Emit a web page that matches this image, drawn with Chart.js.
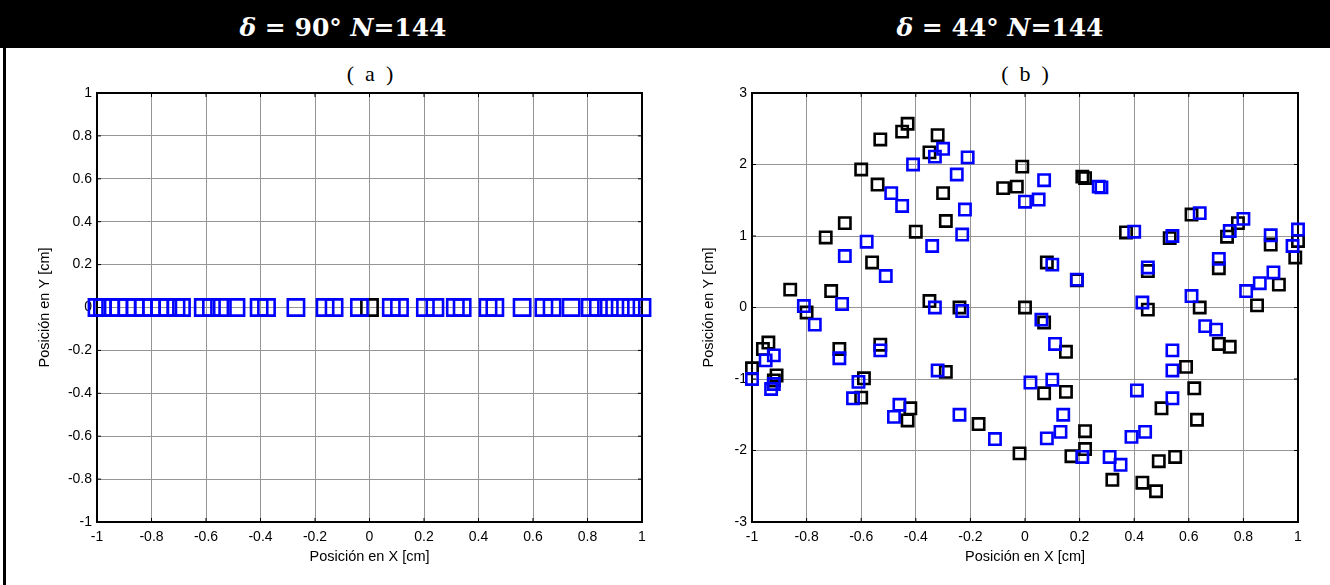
<!DOCTYPE html>
<html>
<head>
<meta charset="utf-8">
<script src="https://cdn.jsdelivr.net/npm/chart.js@4.4.0/dist/chart.umd.min.js"></script>
<style>
  body { margin: 0; width: 1330px; height: 585px; overflow: hidden; position: relative; background: #fff; font-family: "Liberation Sans", Arial, sans-serif; }
  #header { position: absolute; left: 0; top: 0; width: 1330px; height: 48px; background: #000; color: #fff; }
  .htitle { position: absolute; top: 0; height: 48px; font: bold 25px "DejaVu Serif", serif; line-height: 56px; white-space: nowrap; transform: translateX(-50%); }
  #frame { position: absolute; left: 3px; top: 48px; width: 3px; height: 537px; background: #000; z-index: 2; }
  .sub { position: absolute; top: 61px; font: 22px "Liberation Serif", serif; line-height: 26px; white-space: pre; transform: translateX(-50%); }
  canvas { position: absolute; top: 48px; }
  #chartA { left: 0; }
  #chartB { left: 700px; }
</style>
</head>
<body>
<div id="header">
  <div class="htitle" style="left:343px"><i>δ</i> = 90° <i>N</i>=144</div>
  <div class="htitle" style="left:1000px"><i>δ</i> = 44° <i>N</i>=144</div>
</div>
<div id="frame"></div>
<div class="sub" style="left:370px">(  a  )</div>
<div class="sub" style="left:1025px">(  b  )</div>
<canvas id="chartA" width="700" height="537"></canvas>
<canvas id="chartB" width="630" height="537"></canvas>
<script>
// tick labels
const xTicks = [-1, -0.8, -0.6, -0.4, -0.2, 0, 0.2, 0.4, 0.6, 0.8, 1];
const yTicksA = [-1, -0.8, -0.6, -0.4, -0.2, 0, 0.2, 0.4, 0.6, 0.8, 1];
const yTicksB = [-3, -2, -1, 0, 1, 2, 3];

// (a) delta = 90: everything lies on y = 0
const leftBlueX = [-1.0, -0.98, -0.95, -0.92, -0.89, -0.86, -0.83, -0.8, -0.77, -0.74, -0.71, -0.69,
  -0.61, -0.58, -0.54, -0.49, -0.405, -0.378, -0.27, -0.163, -0.13, -0.037,
  0.08, 0.11, 0.205, 0.24, 0.315, 0.34, 0.435, 0.46, 0.56, 0.64, 0.67, 0.74,
  0.81, 0.84, 0.88, 0.92, 0.96, 1.0];
const leftBlackX = [0];

// (b) delta = 44
const rightBlackX = [-0.86, -0.80, -0.73, -0.66, -0.71, -0.60, -0.54, -0.56, -0.53, -0.45, -0.43, -0.40,
  -0.35, -0.32, -0.30, -0.29, -0.35, -0.24, -0.08, -0.03, -0.01, 0.00, 0.21, 0.22,
  0.37, 0.53, 0.61, 0.74, 0.78, 0.90, 1.00, 0.99, 0.08, 0.45, 0.71, 0.93,
  0.19, 0.45, 0.64, 0.85, 0.07, -0.94, -0.96, -1.00, -0.91, -0.92, -0.68, -0.53,
  -0.59, -0.60, -0.42, -0.43, -0.29, -0.17, -0.02, 0.15, 0.07, 0.15, 0.22, 0.22,
  0.17, 0.32, 0.43, 0.48, 0.49, 0.55, 0.50, 0.63, 0.62, 0.59, 0.71, 0.75];
const rightBlackY = [0.25, -0.07, 0.98, 1.18, 0.23, 1.93, 1.72, 0.63, 2.35, 2.46, 2.57, 1.06,
  2.17, 2.41, 1.60, 1.21, 0.09, 0.00, 1.67, 1.69, 1.97, 0.00, 1.83, 1.81,
  1.05, 0.97, 1.30, 0.99, 1.18, 0.88, 0.93, 0.70, 0.63, 0.51, 0.55, 0.32,
  0.38, -0.03, 0.00, 0.03, -0.21, -0.49, -0.58, -0.85, -0.95, -1.02, -0.58, -0.52,
  -0.99, -1.26, -1.41, -1.58, -0.90, -1.63, -2.04, -0.62, -1.20, -1.18, -1.73, -1.98,
  -2.08, -2.41, -2.45, -2.57, -2.15, -2.09, -1.41, -1.57, -1.13, -0.83, -0.51, -0.55];
const rightBlueX = [-0.81, -0.77, -0.67, -0.66, -0.58, -0.51, -0.49, -0.45, -0.41, -0.34, -0.33, -0.30,
  -0.33, -0.25, -0.23, -0.22, -0.21, -0.23, 0.00, 0.05, 0.07, 0.28, 0.27, 0.40,
  0.54, 0.64, 0.75, 0.80, 0.90, 1.00, 0.98, 0.10, 0.19, 0.45, 0.71, 0.91,
  0.86, 0.81, 0.61, 0.43, 0.06, 0.66, -1.00, -0.95, -0.92, -0.92, -0.93, -0.68,
  -0.53, -0.61, -0.63, -0.46, -0.48, -0.32, -0.24, -0.11, 0.02, 0.11, 0.10, 0.14,
  0.13, 0.08, 0.21, 0.31, 0.35, 0.39, 0.44, 0.41, 0.54, 0.54, 0.54, 0.70];
const rightBlueY = [0.02, -0.24, 0.05, 0.72, 0.92, 0.44, 1.60, 1.42, 2.00, 0.86, 2.11, 2.22,
  0.00, 1.86, 1.02, 1.37, 2.10, -0.05, 1.48, 1.51, 1.78, 1.68, 1.69, 1.06,
  1.00, 1.32, 1.07, 1.24, 1.01, 1.09, 0.86, 0.60, 0.39, 0.56, 0.68, 0.49,
  0.34, 0.23, 0.16, 0.07, -0.17, -0.26, -1.00, -0.74, -0.67, -1.07, -1.14, -0.71,
  -0.60, -1.04, -1.27, -1.36, -1.53, -0.88, -1.50, -1.84, -1.05, -0.51, -1.01, -1.50,
  -1.74, -1.83, -2.09, -2.09, -2.20, -1.81, -1.74, -1.16, -1.27, -0.88, -0.60, -0.31];

const toPoints = (xs, ys) => xs.map((x, i) => ({ x, y: ys ? ys[i] : 0 }));

// axes box with small inward ticks, drawn under the markers
const boxPlugin = {
  id: 'box',
  beforeDatasetsDraw(chart) {
    const { ctx, chartArea: a, scales: { x, y } } = chart;
    const seg = (x1, y1, x2, y2) => { ctx.beginPath(); ctx.moveTo(x1, y1); ctx.lineTo(x2, y2); ctx.stroke(); };
    ctx.save();
    ctx.strokeStyle = '#000';
    ctx.lineWidth = 1;
    x.ticks.forEach(t => {
      const px = x.getPixelForValue(t.value);
      seg(px, a.bottom, px, a.bottom - 4);
      seg(px, a.top, px, a.top + 4);
    });
    y.ticks.forEach(t => {
      const py = y.getPixelForValue(t.value);
      seg(a.left, py, a.left + 4, py);
      seg(a.right, py, a.right - 4, py);
    });
    ctx.lineWidth = 2;
    ctx.strokeRect(a.left, a.top, a.right - a.left, a.bottom - a.top);
    ctx.restore();
  }
};

const tickFont = { family: '"Liberation Sans", Arial, sans-serif', size: 14 };
const titleFont = { family: '"Liberation Sans", Arial, sans-serif', size: 14.5 };
const fmt = v => String(+v.toFixed(1));

const makeChart = (id, blue, black, yTicks, radius, opts) => new Chart(document.getElementById(id), {
  type: 'scatter',
  data: {
    datasets: [
      { data: blue, borderColor: '#0000ff', backgroundColor: 'rgba(0,0,0,0)', pointStyle: 'rect',
        pointRadius: radius, pointBorderWidth: 2.6, clip: false },
      { data: black, borderColor: '#000', backgroundColor: 'rgba(0,0,0,0)', pointStyle: 'rect',
        pointRadius: radius, pointBorderWidth: 2.6, clip: false }
    ]
  },
  options: {
    responsive: false,
    animation: false,
    events: [],
    layout: { padding: { left: 0, right: opts.padRight, top: 45, bottom: 0 } },
    plugins: { legend: { display: false }, tooltip: { enabled: false } },
    scales: {
      x: {
        type: 'linear', min: -1, max: 1,
        afterBuildTicks: s => { s.ticks = xTicks.map(v => ({ value: v })); },
        afterFit: s => { s.height = 63; },
        grid: { color: '#959595', lineWidth: 1, drawTicks: false },
        border: { display: false },
        ticks: { color: '#000', font: tickFont, padding: 7, maxRotation: 0, callback: fmt },
        title: { display: true, text: 'Posición en X [cm]', color: '#000', font: titleFont, padding: { top: 0, bottom: 19 } }
      },
      y: {
        type: 'linear', min: yTicks[0], max: yTicks[yTicks.length - 1],
        afterBuildTicks: s => { s.ticks = yTicks.map(v => ({ value: v })); },
        afterFit: s => { s.width = opts.yWidth; },
        grid: { color: '#959595', lineWidth: 1, drawTicks: false },
        border: { display: false },
        ticks: { color: '#000', font: tickFont, padding: 5, callback: fmt },
        title: { display: true, text: 'Posición en Y [cm]', color: '#000', font: titleFont, padding: { top: opts.yTitlePad, bottom: 0 } }
      }
    }
  },
  plugins: [boxPlugin]
});

makeChart('chartA', toPoints(leftBlueX), toPoints(leftBlackX), yTicksA, 11.5, { padRight: 58, yWidth: 97, yTitlePad: 36 });
makeChart('chartB', toPoints(rightBlueX, rightBlueY), toPoints(rightBlackX, rightBlackY), yTicksB, 8, { padRight: 32, yWidth: 52, yTitlePad: 0 });
</script>
</body>
</html>
